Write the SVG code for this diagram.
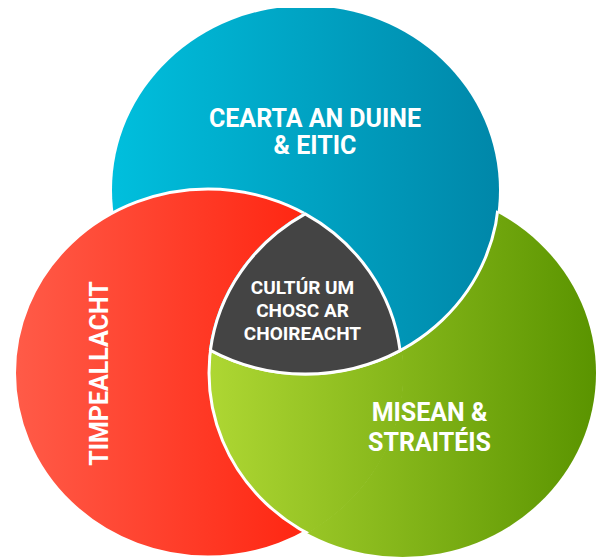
<svg xmlns="http://www.w3.org/2000/svg" xmlns:xlink="http://www.w3.org/1999/xlink" width="606" height="558" viewBox="0 0 606 558">
  <style>
    .edge { stroke: #ffffff; stroke-width: 3; }
    .lbl { font-family: Roboto, "Liberation Sans", Arial, sans-serif; font-weight: 700; fill: #ffffff; text-anchor: middle; }
    .big { font-size: 25px; }
    .small { font-size: 19px; }
  </style>
  <defs>
    <linearGradient id="gBlue" x1="0" y1="0" x2="1" y2="0">
      <stop offset="0" stop-color="#00BFDD"/>
      <stop offset="1" stop-color="#0087A9"/>
    </linearGradient>
    <linearGradient id="gRed" x1="0" y1="0" x2="1" y2="0">
      <stop offset="0" stop-color="#FF5B48"/>
      <stop offset="1" stop-color="#FF1500"/>
    </linearGradient>
    <linearGradient id="gGreen" x1="0" y1="0" x2="1" y2="0">
      <stop offset="0" stop-color="#AED733"/>
      <stop offset="1" stop-color="#5A9400"/>
    </linearGradient>
    <ellipse id="eBlue" cx="305.5" cy="190" rx="193.5" ry="184"/>
    <ellipse id="eRed" cx="208" cy="373" rx="193.5" ry="184"/>
    <ellipse id="eGreen" cx="402.5" cy="373" rx="193.5" ry="184"/>
    <clipPath id="clipRedPlus">
      <ellipse cx="208" cy="373" rx="195.5" ry="186"/>
    </clipPath>
    <clipPath id="clipGreenPlus">
      <ellipse cx="402.5" cy="373" rx="195" ry="185.5"/>
    </clipPath>
    <clipPath id="canvasClip">
      <rect x="0" y="8" width="606" height="550"/>
    </clipPath>
  </defs>

  <g id="diagram" clip-path="url(#canvasClip)">
    <g id="node-blue">
      <use xlink:href="#eBlue" fill="url(#gBlue)"/>
    </g>
    <g id="node-green">
      <use xlink:href="#eGreen" fill="url(#gGreen)"/>
    </g>
    <g id="node-red">
      <use xlink:href="#eRed" class="edge" fill="url(#gRed)"/>
    </g>
    <g id="overlap-green-over-red" clip-path="url(#clipRedPlus)">
      <use xlink:href="#eGreen" class="edge" fill="url(#gGreen)"/>
    </g>
    <g id="overlap-blue-over-green" clip-path="url(#clipGreenPlus)">
      <use xlink:href="#eBlue" class="edge" fill="url(#gBlue)"/>
    </g>
    <g id="node-center">
      <path class="edge" fill="#444444" d="M305.2,213.9 A193.5,184 0 0 0 210.4,350.3 A193.5,184 0 0 0 400.1,350.6 A193.5,184 0 0 0 305.2,213.9 Z"/>
      <text class="lbl small" x="302.5" y="293.5">CULTÚR UM</text>
      <text class="lbl small" x="302.5" y="317">CHOSC AR</text>
      <text class="lbl small" x="302.5" y="339.5">CHOIREACHT</text>
    </g>
  </g>

  <g id="labels">
    <g id="label-blue">
      <text class="lbl big" x="315" y="126.5">CEARTA AN DUINE</text>
      <text class="lbl big" x="315" y="153.5">&amp; EITIC</text>
    </g>
    <g id="label-red">
      <text class="lbl big" transform="translate(108,373.5) rotate(-90)" x="0" y="0">TIMPEALLACHT</text>
    </g>
    <g id="label-green">
      <text class="lbl big" x="429.5" y="421">MISEAN &amp;</text>
      <text class="lbl big" x="429.5" y="451">STRAITÉIS</text>
    </g>
  </g>
</svg>
